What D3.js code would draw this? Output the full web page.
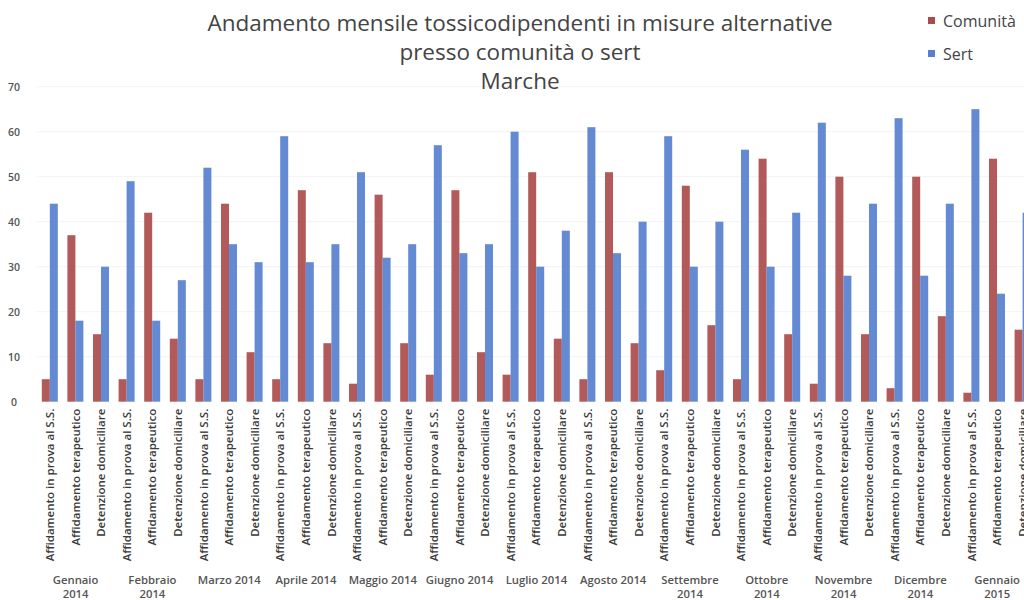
<!DOCTYPE html>
<html>
<head>
<meta charset="utf-8">
<script src="https://cdn.jsdelivr.net/npm/d3@7"></script>
<style>
  html, body { margin: 0; padding: 0; background: #fff; overflow: hidden; }
  svg { display: block; }
</style>
</head>
<body>
<svg id="chart" width="1024" height="600"></svg>
<script>
// ---- DATA ----
const titleLines = ["Andamento mensile tossicodipendenti in misure alternative", "presso comunità o sert", "Marche"];
const seriesNames = ["Comunità", "Sert"];
const measures = ["Affidamento in prova al S.S.", "Affidamento terapeutico", "Detenzione domiciliare"];
const months = [
  ["Gennaio", "2014"], ["Febbraio", "2014"], ["Marzo 2014"], ["Aprile 2014"], ["Maggio 2014"],
  ["Giugno 2014"], ["Luglio 2014"], ["Agosto 2014"], ["Settembre", "2014"], ["Ottobre", "2014"],
  ["Novembre", "2014"], ["Dicembre", "2014"], ["Gennaio", "2015"]
];
const comunita = [5,37,15, 5,42,14, 5,44,11, 5,47,13, 4,46,13, 6,47,11, 6,51,14, 5,51,13, 7,48,17, 5,54,15, 4,50,15, 3,50,19, 2,54,16];
const sert     = [44,18,30, 49,18,27, 52,35,31, 59,31,35, 51,32,35, 57,33,35, 60,30,38, 61,33,40, 59,30,40, 56,30,42, 62,28,44, 63,28,44, 65,24,42];
const yTicks = [0, 10, 20, 30, 40, 50, 60, 70];

// ---- LAYOUT ----
const colors = { "Comunità": "#ab4b4b", "Sert": "#5680cf" };
const svg = d3.select("#chart");
const font = "'Open Sans', Lato, sans-serif";

const cats = [];
months.forEach((m, mi) => measures.forEach((s, si) => cats.push({ id: mi * 3 + si, month: mi, label: s })));

const x = d3.scaleBand().domain(cats.map(d => d.id)).range([37.2, 37.2 + 39 * 25.6]).padding(0);
const xInner = d3.scaleBand().domain(seriesNames).range([4.6, 20.6]).padding(0);
const y = d3.scaleLinear().domain([0, 70]).range([401.7, 86.7]);

// faint gridlines
svg.append("g").selectAll("line").data(yTicks.slice(1)).join("line")
  .attr("x1", 37).attr("x2", 1024)
  .attr("y1", d => y(d)).attr("y2", d => y(d))
  .attr("stroke", "#f1f3f8").attr("stroke-width", 1);

// y axis labels
const yAxis = d3.axisLeft(y).tickValues(yTicks).tickSize(0).tickPadding(0);
const yg = svg.append("g").attr("transform", "translate(24,0)").call(yAxis);
yg.select(".domain").remove();
yg.selectAll("text").attr("font-family", font).attr("font-size", 10.5).attr("font-weight", 600)
  .attr("fill", "#555").attr("text-anchor", "middle").attr("x", -10);

// bars
const data = [];
cats.forEach((c, i) => {
  data.push({ cat: c.id, s: "Comunità", v: comunita[i] });
  data.push({ cat: c.id, s: "Sert", v: sert[i] });
});
svg.append("g").selectAll("rect").data(data).join("rect")
  .attr("x", d => x(d.cat) + xInner(d.s))
  .attr("y", d => y(d.v))
  .attr("width", xInner.bandwidth())
  .attr("height", d => y(0) - y(d.v))
  .attr("fill", d => colors[d.s])
  .attr("opacity", 0.92);

// category labels (rotated)
const xAxis = d3.axisBottom(x).tickSize(0).tickFormat(i => cats[i].label);
const xg = svg.append("g").attr("transform", `translate(0,${y(0)})`).call(xAxis);
xg.select(".domain").remove();
xg.selectAll(".tick text")
  .attr("transform", "rotate(-90)")
  .attr("text-anchor", "end")
  .attr("x", -7).attr("y", 0).attr("dy", "0.35em")
  .attr("font-family", font).attr("font-size", 11.5).attr("font-weight", 600)
  .attr("fill", "#3a3a3a");

// month labels
const mg = svg.append("g");
months.forEach((m, mi) => {
  const cx = x(mi * 3 + 1) + x.bandwidth() / 2;
  const t = mg.append("text").attr("x", cx).attr("y", 584)
    .attr("text-anchor", "middle").attr("font-family", font)
    .attr("font-size", 11.3).attr("font-weight", 600).attr("fill", "#555");
  m.forEach((line, li) => t.append("tspan").attr("x", cx).attr("dy", li === 0 ? 0 : 14).text(line));
});

// title
const tg = svg.append("text").attr("text-anchor", "middle").attr("font-family", font)
  .attr("font-size", 22.5).attr("fill", "#444");
titleLines.forEach((l, i) => tg.append("tspan").attr("x", 520).attr("y", 31 + i * 29).text(l));

// legend
const lg = svg.append("g").attr("transform", "translate(928,0)");
seriesNames.forEach((s, i) => {
  lg.append("rect").attr("x", 0).attr("y", 17 + i * 33).attr("width", 7).attr("height", 7).attr("fill", colors[s]);
  lg.append("text").attr("x", 15).attr("y", 27 + i * 33).attr("font-family", font)
    .attr("font-size", 16).attr("fill", "#444").text(s);
});
</script>
</body>
</html>
